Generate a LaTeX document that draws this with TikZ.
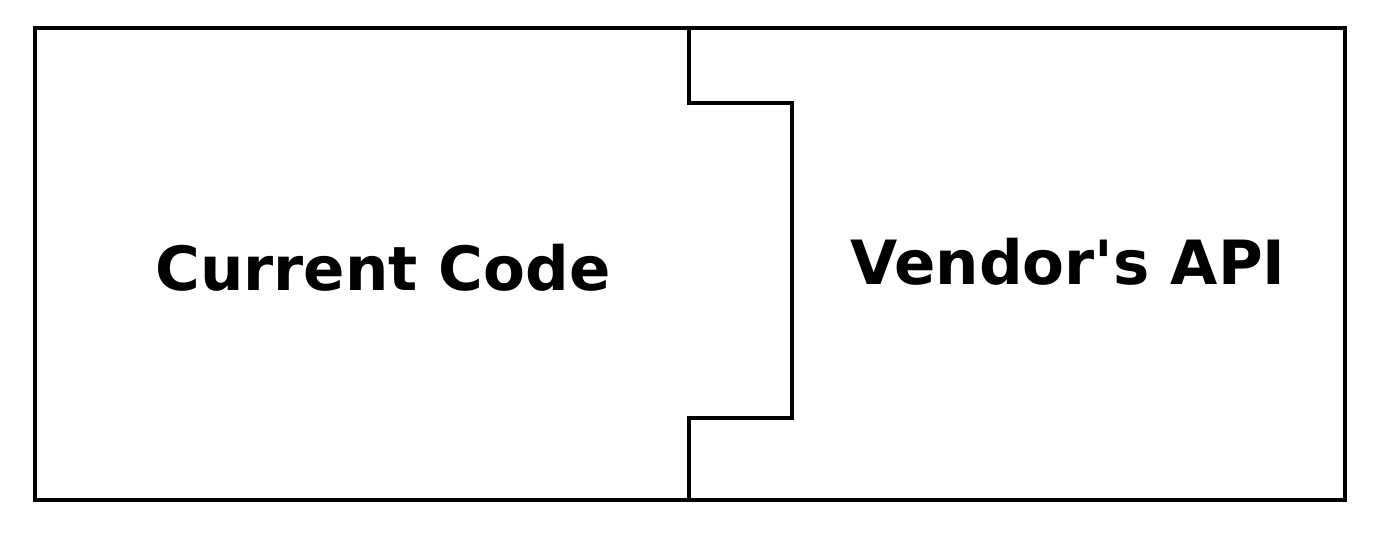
\documentclass[tikz,border=0pt]{standalone}
\usepackage{fontspec}
\setmainfont{DejaVu Sans}[Ligatures=TeXOff]
\usepackage{tikz}

\begin{document}
\begin{tikzpicture}[x=1pt,y=-1pt]
                \tikzstyle{every node}+=[inner sep=0pt]
                \tikzstyle{label text}=[font=\fontsize{61}{61}\selectfont\bfseries]
                \useasboundingbox (0,0) rectangle (1388,534);
                % outer box
                \draw [black, line width=3.2pt] (35,28) rectangle (1345,500);
                % notch between the two parts
                \draw [black, line width=3.2pt] (689,28) -- (689,103) -- (792,103) -- (792,418) -- (689,418) -- (689,500);
                \node [label text] (current) at (383,268) {Current Code};
                \node [label text] (vendor) at (1068,262) {Vendor's API};
\end{tikzpicture}
\end{document}
